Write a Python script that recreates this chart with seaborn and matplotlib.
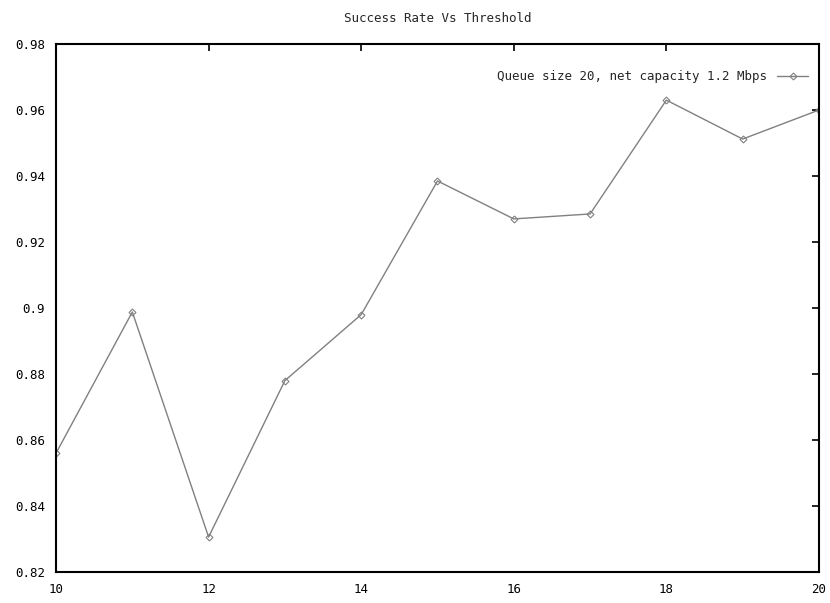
import matplotlib
matplotlib.use("Agg")
import matplotlib.pyplot as plt
import seaborn as sns
import pandas as pd

# data
threshold = [10, 11, 12, 13, 14, 15, 16, 17, 18, 19, 20]
success_rate = [0.856, 0.8988, 0.8306, 0.878, 0.898, 0.9385, 0.927, 0.9285, 0.963, 0.9512, 0.960]
series_label = "Queue size 20, net capacity 1.2 Mbps"

df = pd.DataFrame({"Threshold": threshold, "Success": success_rate})

sns.set_style("white")
plt.rcParams["font.family"] = ["DejaVu Sans Mono"]

fig = plt.figure(figsize=(8.3, 6.03), dpi=100)
ax = fig.add_axes([0.0675, 0.0514, 0.9192, 0.8756])

sns.lineplot(data=df, x="Threshold", y="Success", ax=ax, color="#808080",
             linewidth=1.0, marker="D", markersize=3.5, markerfacecolor="none",
             markeredgecolor="#808080", markeredgewidth=0.8, label=series_label)

ax.set_xlim(10, 20)
ax.set_ylim(0.82, 0.98)
ax.set_xticks([10, 12, 14, 16, 18, 20])
ax.set_yticks([0.82, 0.84, 0.86, 0.88, 0.9, 0.92, 0.94, 0.96, 0.98])
ax.set_yticklabels(["0.82", "0.84", "0.86", "0.88", "0.9", "0.92", "0.94", "0.96", "0.98"])
ax.set_xlabel("")
ax.set_ylabel("")
ax.tick_params(direction="in", length=5, width=1.2, colors="black", labelsize=9,
               top=True, right=True, pad=8)
for s in ax.spines.values():
    s.set_color("black")
    s.set_linewidth(1.5)

ax.set_title("Success Rate Vs Threshold", fontsize=9, pad=16)

ax.legend(loc="upper right", bbox_to_anchor=(1.017, 0.996), frameon=False,
          markerfirst=False, fontsize=9, handlelength=2.5, borderaxespad=1.5)

fig.savefig("out.png", dpi=100)
